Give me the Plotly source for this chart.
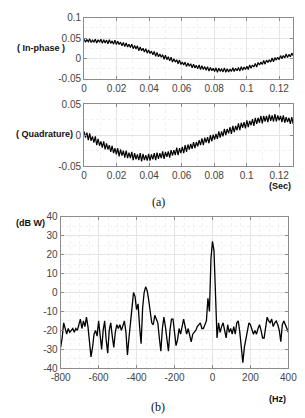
import plotly.graph_objects as go

# ---------------- data ----------------
dt_sec = 0.000863  # sampling interval of the time traces
in_phase = [
    0.047, 0.040, 0.046, 0.041, 0.048, 0.039, 0.045, 0.040, 0.047, 0.038,
    0.046, 0.040, 0.047, 0.037, 0.046, 0.038, 0.045, 0.036, 0.046, 0.037,
    0.043, 0.035, 0.045, 0.034, 0.042, 0.034, 0.040, 0.031, 0.039, 0.029,
    0.038, 0.028, 0.035, 0.027, 0.035, 0.024, 0.032, 0.023, 0.031, 0.019,
    0.028, 0.019, 0.025, 0.016, 0.024, 0.013, 0.021, 0.012, 0.018, 0.009,
    0.017, 0.005, 0.015, 0.004, 0.011, 0.003, 0.009, -0.002, 0.008, -0.003,
    0.004, -0.006, 0.003, -0.009, -0.001, -0.009, -0.003, -0.013, -0.004, -0.015,
    -0.009, -0.016, -0.009, -0.020, -0.011, -0.019, -0.013, -0.023, -0.014, -0.023,
    -0.017, -0.025, -0.016, -0.027, -0.018, -0.027, -0.020, -0.029, -0.020, -0.031,
    -0.022, -0.030, -0.024, -0.032, -0.023, -0.034, -0.024, -0.031, -0.026, -0.033,
    -0.023, -0.034, -0.025, -0.033, -0.026, -0.032, -0.023, -0.032, -0.024, -0.030,
    -0.022, -0.031, -0.020, -0.029, -0.021, -0.027, -0.019, -0.027, -0.016, -0.024,
    -0.016, -0.021, -0.012, -0.021, -0.010, -0.016, -0.009, -0.015, -0.005, -0.014,
    -0.004, -0.010, -0.003, -0.009, 0.001, -0.008, 0.002, -0.004, 0.003, -0.003,
    0.007, -0.001, 0.007, 0.001, 0.011, 0.002, 0.010, 0.004, 0.013, 0.007,
]
quadrature = [
    0.006, -0.004, 0.004, -0.008, 0.003, -0.009, -0.002, -0.012, -0.002, -0.016,
    -0.006, -0.017, -0.010, -0.020, -0.010, -0.023, -0.013, -0.023, -0.016, -0.027,
    -0.017, -0.029, -0.021, -0.031, -0.021, -0.034, -0.023, -0.033, -0.025, -0.036,
    -0.025, -0.037, -0.028, -0.037, -0.027, -0.040, -0.029, -0.039, -0.031, -0.040,
    -0.029, -0.042, -0.030, -0.040, -0.032, -0.041, -0.030, -0.041, -0.031, -0.039,
    -0.029, -0.040, -0.028, -0.038, -0.029, -0.037, -0.026, -0.038, -0.027, -0.035,
    -0.026, -0.036, -0.024, -0.033, -0.024, -0.032, -0.020, -0.032, -0.021, -0.029,
    -0.019, -0.029, -0.016, -0.027, -0.015, -0.023, -0.014, -0.022, -0.011, -0.021,
    -0.011, -0.018, -0.008, -0.016, -0.005, -0.016, -0.004, -0.012, -0.003, -0.013,
    0.000, -0.010, 0.001, -0.007, 0.002, -0.006, 0.006, -0.004, 0.006, -0.002,
    0.010, 0.000, 0.010, 0.003, 0.013, 0.002, 0.015, 0.005, 0.015, 0.008,
    0.019, 0.008, 0.020, 0.012, 0.021, 0.011, 0.024, 0.013, 0.023, 0.016,
    0.026, 0.015, 0.028, 0.018, 0.028, 0.020, 0.031, 0.019, 0.031, 0.022,
    0.031, 0.021, 0.033, 0.023, 0.032, 0.022, 0.034, 0.022, 0.032, 0.024,
    0.031, 0.021, 0.032, 0.020, 0.029, 0.021, 0.028, 0.018, 0.029, 0.018,
]
freq_start = -800
freq_step = 8
spectrum_db = [
    -29, -24, -16, -20, -22, -19, -21, -20, -19, -21,
    -19, -20, -17, -14, -19, -15, -18, -13, -18, -27,
    -34, -29, -22, -20, -23, -15, -22, -30, -20, -15,
    -25, -32, -20, -16, -23, -29, -21, -17, -19, -17,
    -20, -17, -15, -21, -33, -24, -14, -8, 0, -2,
    -9, -6, -18, -27, -8, 0, 3, 1, -4, -10,
    -16, -17, -12, -14, -16, -24, -31, -19, -13, -18,
    -26, -31, -20, -14, -14, -20, -28, -25, -19, -22,
    -17, -14, -18, -22, -19, -23, -26, -22, -21, -20,
    -18, -17, -16, -19, -19, -17, -15, -3, -10, 18,
    27, 22, -8, -24, -16, -21, -18, -16, -20, -24,
    -17, -21, -19, -22, -18, -22, -16, -15, -21, -28,
    -37, -29, -25, -20, -16, -17, -20, -22, -20, -22,
    -19, -17, -20, -24, -24, -17, -13, -15, -16, -14,
    -18, -16, -15, -17, -20, -26, -17, -15, -17, -19,
    -21,
]

time_ticks = [0, 0.02, 0.04, 0.06, 0.08, 0.1, 0.12]
time_ticktext = ["0", "0.02", "0.04", "0.06", "0.08", "0.1", "0.12"]
ip_ticks = [-0.05, 0, 0.05, 0.1]
ip_ticktext = ["-0.05", "0", "0.05", "0.1"]
q_ticks = [-0.05, 0, 0.05]
q_ticktext = ["-0.05", "0", "0.05"]
f_ticks = [-800, -600, -400, -200, 0, 200, 400]
f_ticktext = ["-800", "-600", "-400", "-200", "0", "200", "400"]
db_ticks = [-40, -30, -20, -10, 0, 10, 20, 30, 40]
db_ticktext = ["-40", "-30", "-20", "-10", "0", "10", "20", "30", "40"]

# ---------------- figure ----------------
W, H = 305, 418
fig = go.Figure()
line = dict(color="black", width=1.2)
fig.add_trace(go.Scatter(y=in_phase, x0=0, dx=dt_sec, mode="lines", line=line,
                         xaxis="x", yaxis="y", showlegend=False))
fig.add_trace(go.Scatter(y=quadrature, x0=0, dx=dt_sec, mode="lines", line=line,
                         xaxis="x2", yaxis="y2", showlegend=False))
fig.add_trace(go.Scatter(y=spectrum_db, x0=freq_start, dx=freq_step, mode="lines",
                         line=dict(color="black", width=1.3),
                         xaxis="x3", yaxis="y3", showlegend=False))

def px(x):
    return x / W

def py(y):
    return 1 - y / H

tickfont = dict(family="Liberation Sans, Arial", size=10, color="#444")
common = dict(showline=True, linecolor="#8c8c8c", linewidth=1, mirror="ticks",
              ticks="inside", ticklen=3, tickcolor="#8c8c8c",
              showgrid=True, gridcolor="#e4e4e4", gridwidth=1,
              zeroline=False, tickfont=tickfont, fixedrange=True,
              ticklabeloverflow="allow")
minor = dict(showgrid=True, gridcolor="#f1f1f1", griddash="dot", ticks="")

fig.update_layout(
    width=W, height=H, margin=dict(l=0, r=0, t=0, b=0),
    paper_bgcolor="white", plot_bgcolor="white",
    xaxis=dict(domain=[px(79), px(302)], range=[0, 0.1286], anchor="y",
               tickvals=time_ticks, ticktext=time_ticktext,
               minor=dict(dtick=0.01, **minor), **common),
    yaxis=dict(domain=[py(75), py(12)], range=[-0.05, 0.1], anchor="x",
               tickvals=ip_ticks, ticktext=ip_ticktext,
               minor=dict(dtick=0.025, **minor), **common),
    xaxis2=dict(domain=[px(79), px(302)], range=[0, 0.1286], anchor="y2",
                tickvals=time_ticks, ticktext=time_ticktext,
                minor=dict(dtick=0.01, **minor), **common),
    yaxis2=dict(domain=[py(165), py(101)], range=[-0.05, 0.05], anchor="x2",
                tickvals=q_ticks, ticktext=q_ticktext,
                minor=dict(dtick=0.025, **minor), **common),
    xaxis3=dict(domain=[px(54), px(297)], range=[-800, 400.5], anchor="y3",
                tickvals=f_ticks, ticktext=f_ticktext,
                minor=dict(dtick=50, **minor), **common),
    yaxis3=dict(domain=[py(373), py(217)], range=[-40, 40], anchor="x3",
                tickvals=db_ticks, ticktext=db_ticktext,
                minor=dict(dtick=5, **minor), **common),
)

bold = dict(family="Liberation Sans, Arial", size=9, color="#111")
serif = dict(family="Liberation Serif, Times New Roman", size=12, color="#111")
ann = [
    dict(text="<b>( In-phase )</b>", x=px(5), y=py(43), xanchor="left", font=bold),
    dict(text="<b>( Quadrature)</b>", x=px(4), y=py(132), xanchor="left", font=bold),
    dict(text="<b>(Sec)</b>", x=px(302), y=py(185), xanchor="right", font=bold),
    dict(text="(a)", x=px(158), y=py(202), xanchor="center", font=serif),
    dict(text="<b>(dB W)</b>", x=px(4), y=py(223), xanchor="left", font=bold),
    dict(text="<b>(Hz)</b>", x=px(297), y=py(405), xanchor="right", font=bold),
    dict(text="(b)", x=px(158), y=py(413), xanchor="center", font=serif),
]
for a in ann:
    fig.add_annotation(xref="paper", yref="paper", showarrow=False,
                       yanchor="middle", **a)

fig.write_html("out.html")
